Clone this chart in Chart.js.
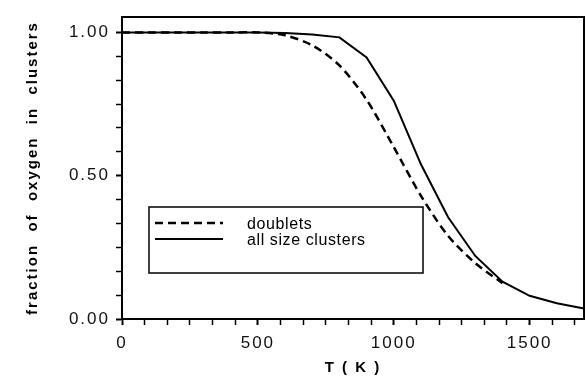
<!DOCTYPE html>
<html>
<head>
<meta charset="utf-8">
<script src="https://cdn.jsdelivr.net/npm/chart.js@4"></script>
<style>
  html, body { margin: 0; padding: 0; background: #fff; }
  #wrap { width: 585px; height: 377px; }
</style>
</head>
<body>
<div id="wrap"><canvas id="oxyChart"></canvas></div>
<script>
// temperatures (K)
const temps = [0, 100, 200, 300, 400, 500, 600, 700, 800, 900, 1000, 1100, 1200, 1300, 1400, 1500, 1600, 1700];
// fraction of oxygen in doublets
const doublets = [1.0, 1.0, 1.0, 1.0, 1.0, 1.0, 0.99, 0.955, 0.885, 0.765, 0.60, 0.43, 0.29, 0.195, 0.125, null, null, null];
// fraction of oxygen in clusters of any size
const allClusters = [1.0, 1.0, 1.0, 1.0, 1.0, 1.0, 0.998, 0.993, 0.983, 0.913, 0.762, 0.54, 0.355, 0.22, 0.13, 0.081, 0.055, 0.037];
const yLabels = [0, 0.5, 1.0];
const xLabels = [0, 500, 1000, 1500];

const font = "'Liberation Sans', Arial, sans-serif";

function pts(vals) {
    return temps.map((t, i) => ({ x: t, y: vals[i] })).filter(p => p.y !== null);
}

function isMajor(v, list) {
    return list.some(m => Math.abs(m - v) < 1e-6);
}

// the scanned figure uses widely spaced lettering
const spacingPlugin = {
    id: 'spacing',
    beforeDraw(chart) {
        chart.ctx.letterSpacing = '2px';
    }
};

// frame on top/right + legend box inside plot
const framePlugin = {
    id: 'frame',
    afterDraw(chart) {
        const { ctx, chartArea: a } = chart;
        ctx.save();
        ctx.strokeStyle = '#000';
        ctx.lineWidth = 2;
        ctx.beginPath();
        ctx.moveTo(a.left, a.top);
        ctx.lineTo(a.right, a.top);
        ctx.lineTo(a.right, a.bottom);
        ctx.stroke();

        // legend
        const bx = a.left + 27, by = a.top + 190, bw = 274, bh = 66;
        ctx.lineWidth = 1.5;
        ctx.strokeRect(bx, by, bw, bh);
        ctx.font = '16px ' + font;
        ctx.letterSpacing = '0.6px';
        ctx.fillStyle = '#000';
        ctx.textBaseline = 'middle';
        chart.data.datasets.forEach((ds, i) => {
            const y = by + 16 + i * 16;
            ctx.lineWidth = ds.borderWidth;
            ctx.setLineDash(ds.borderDash || []);
            ctx.beginPath();
            ctx.moveTo(bx + 6, y);
            ctx.lineTo(bx + 74, y);
            ctx.stroke();
            ctx.setLineDash([]);
            ctx.fillText(ds.label, bx + 98, y + 2);
        });
        ctx.restore();
    }
};

const ctx = document.getElementById('oxyChart').getContext('2d');

let oxyChart = new Chart(ctx, {
    type: 'line',
    data: {
        datasets: [{
            label: 'doublets',
            data: pts(doublets),
            borderColor: '#000',
            borderWidth: 2.5,
            borderDash: [8, 5],
            pointRadius: 0,
            tension: 0.3,
            fill: false
        }, {
            label: 'all size clusters',
            data: pts(allClusters),
            borderColor: '#000',
            borderWidth: 2,
            pointRadius: 0,
            tension: 0,
            fill: false
        }]
    },
    options: {
        responsive: true,
        maintainAspectRatio: false,
        animation: false,
        layout: { padding: { top: 17, right: 1, left: 0, bottom: 0 } },
        plugins: {
            legend: { display: false },
            tooltip: { enabled: false }
        },
        scales: {
            x: {
                type: 'linear',
                min: 0,
                max: 1700,
                afterFit(scale) { scale.height = 58; },
                border: { display: true, color: '#000', width: 2 },
                grid: {
                    drawOnChartArea: false,
                    color: '#000',
                    tickLength: 6,
                    tickWidth: c => isMajor(c.tick.value, xLabels) ? 2 : 1.5
                },
                ticks: {
                    stepSize: 500 / 6,
                    includeBounds: false,
                    autoSkip: false,
                    maxRotation: 0,
                    color: '#111',
                    padding: 8,
                    font: { family: font, size: 17 },
                    callback: v => isMajor(v, xLabels) ? String(Math.round(v)) : ''
                },
                title: {
                    display: true,
                    text: 'T ( K )',
                    color: '#000',
                    font: { family: font, size: 15, weight: 'bold' },
                    padding: { top: 0, bottom: 0 }
                }
            },
            y: {
                min: 0,
                max: 1.054,
                afterFit(scale) { scale.width = 122; },
                border: { display: true, color: '#000', width: 2 },
                grid: {
                    drawOnChartArea: false,
                    color: '#000',
                    tickLength: 6,
                    tickWidth: c => isMajor(c.tick.value, yLabels) ? 2 : 1.5
                },
                ticks: {
                    stepSize: 0.5 / 6,
                    includeBounds: false,
                    autoSkip: false,
                    color: '#111',
                    padding: 6,
                    font: { family: font, size: 17 },
                    callback: v => isMajor(v, yLabels) ? v.toFixed(2) : ''
                },
                title: {
                    display: true,
                    text: 'fraction  of  oxygen  in  clusters',
                    color: '#000',
                    font: { family: font, size: 15, weight: 'bold' },
                    padding: { top: 24, bottom: 0 }
                }
            }
        }
    },
    plugins: [spacingPlugin, framePlugin]
});
</script>
</body>
</html>
